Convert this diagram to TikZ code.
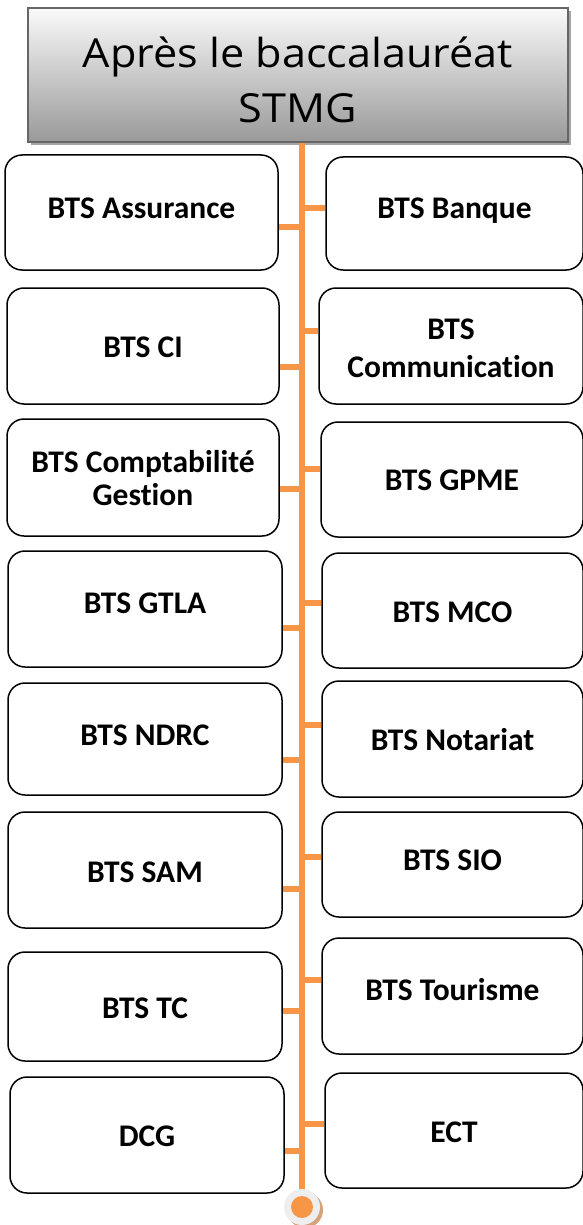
\documentclass[tikz,border=0pt]{standalone}
\usepackage{fontspec}
\setmainfont{Carlito}[Ligatures=NoCommon]
\newfontfamily\titlefont{Open Sans}[FakeStretch=1.08]
\usetikzlibrary{shadows}
\definecolor{orng}{HTML}{F79646}
\definecolor{ringc}{HTML}{EEEEEE}
\definecolor{ringsh}{HTML}{D5A27A}
\begin{document}
\begin{tikzpicture}[x=1pt,y=-1pt,
  bx/.style={draw=black, line width=1.5pt, rounded corners=17pt, inner sep=0pt, align=center,
    font=\fontsize{31.5}{38}\selectfont\bfseries, text depth=10pt},
  conn/.style={draw=orng, line width=6pt},
  spine/.style={draw=orng, line width=6pt},
  titlebox/.style={draw=black!60, line width=2pt, top color=white!98!black, bottom color=black!40,
    drop shadow={shadow xshift=3pt, shadow yshift=-3pt, fill=black!35, opacity=1},
    minimum width=540pt, minimum height=134pt, inner sep=0pt, align=center,
    font=\titlefont\fontsize{40}{55}\selectfont, text height=100pt, text depth=5pt},
  ring/.style={circle, fill=ringc, minimum size=36pt, inner sep=0pt,
    drop shadow={shadow xshift=3pt, shadow yshift=-3pt, fill=ringsh, opacity=1}},
  core/.style={circle, fill=orng, minimum size=22pt, inner sep=0pt},
]
\useasboundingbox (0,0) rectangle (582,1225);

% title
\node[titlebox] (title) at (298,75) {Après le baccalauréat\\STMG};

% spine
\coordinate (dotc) at (302,1207);
\draw[spine] (title.south -| dotc) -- (dotc);

% left boxes
\node[bx, minimum width=273pt, minimum height=115pt, text height=21pt] (L1) at (141.5,212.5) {BTS Assurance};
\node[bx, minimum width=272pt, minimum height=116pt, text height=32pt] (L2) at (143,346) {BTS CI};
\node[bx, minimum width=272pt, minimum height=117pt, text height=65pt, font=\fontsize{31.5}{33}\selectfont\bfseries] (L3) at (143,477.5) {BTS Comptabilité\\Gestion};
\node[bx, minimum width=274pt, minimum height=116pt, text height=18pt] (L4) at (145,609) {BTS GTLA};
\node[bx, minimum width=274pt, minimum height=112pt, text height=22pt] (L5) at (145,739) {BTS NDRC};
\node[bx, minimum width=274pt, minimum height=116pt, text height=34pt] (L6) at (145,870) {BTS SAM};
\node[bx, minimum width=274pt, minimum height=109pt, text height=33pt] (L7) at (145,1006.5) {BTS TC};
\node[bx, minimum width=274pt, minimum height=116pt, text height=32pt] (L8) at (147,1135) {DCG};

% right boxes
\node[bx, minimum width=257pt, minimum height=113pt, text height=19pt] (R1) at (454.5,213.5) {BTS Banque};
\node[bx, minimum width=264pt, minimum height=116pt, text height=72pt] (R2) at (451,346) {BTS\\Communication};
\node[bx, minimum width=262pt, minimum height=115pt, text height=31pt] (R3) at (452,479.5) {BTS GPME};
\node[bx, minimum width=261pt, minimum height=115pt, text height=33pt] (R4) at (452.5,610.5) {BTS MCO};
\node[bx, minimum width=261pt, minimum height=116pt, text height=32pt] (R5) at (452.5,739) {BTS Notariat};
\node[bx, minimum width=261pt, minimum height=105pt, text height=21pt] (R6) at (452.5,864.5) {BTS SIO};
\node[bx, minimum width=261pt, minimum height=116pt, text height=18pt] (R7) at (452.5,996) {BTS Tourisme};
\node[bx, minimum width=258pt, minimum height=115pt, text height=33pt] (R8) at (454,1130.5) {ECT};

% connector points on the spine
\coordinate (sL1) at (302,227);
\coordinate (sL2) at (302,367);
\coordinate (sL3) at (302,489);
\coordinate (sL4) at (302,628);
\coordinate (sL5) at (302,760);
\coordinate (sL6) at (302,889);
\coordinate (sL7) at (302,1011);
\coordinate (sL8) at (302,1151);
\coordinate (sR1) at (302,208);
\coordinate (sR2) at (302,331);
\coordinate (sR3) at (302,469);
\coordinate (sR4) at (302,603);
\coordinate (sR5) at (302,725);
\coordinate (sR6) at (302,857);
\coordinate (sR7) at (302,980);
\coordinate (sR8) at (302,1124);

\foreach \i in {1,...,8}{
  \draw[conn] (L\i.east |- sL\i) -- (sL\i);
  \draw[conn] (sR\i) -- (R\i.west |- sR\i);
}

% end dot
\node[ring] (dot) at (dotc) {};
\node[core] (dotin) at (dot.center) {};
\end{tikzpicture}
\end{document}
